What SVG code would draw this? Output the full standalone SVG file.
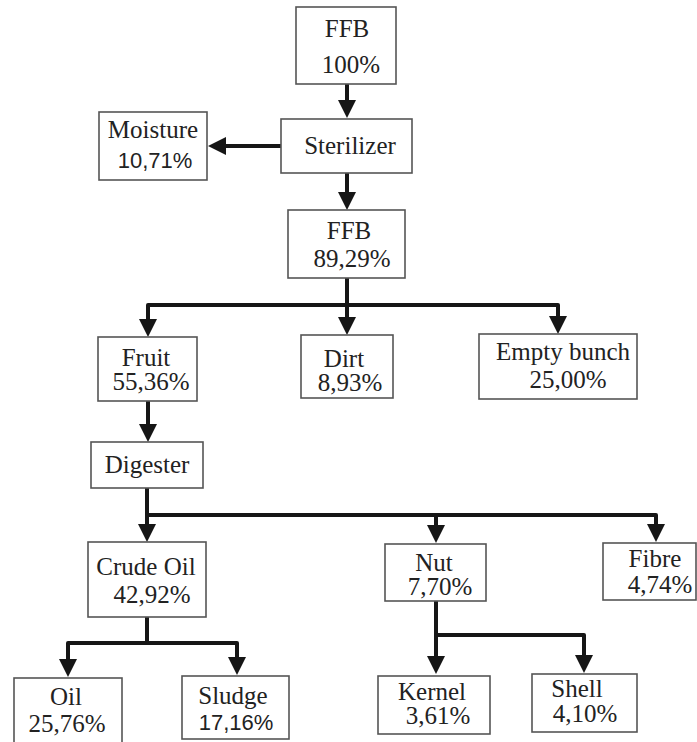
<svg xmlns="http://www.w3.org/2000/svg" width="697" height="742" viewBox="0 0 697 742">
<style>
.box{fill:#fff;stroke:#555;stroke-width:1.6}
.t{font-family:"Liberation Serif","Times New Roman",Times,"DejaVu Serif",serif;font-size:25px;fill:#222;text-anchor:middle}
.s{font-family:"Liberation Sans",Arial,sans-serif;font-size:22px;fill:#222;text-anchor:middle}
.c{fill:none;stroke:#161616;stroke-width:4;stroke-linejoin:round}
</style>
<defs>
<marker id="ah" viewBox="0 0 18 18" markerWidth="18" markerHeight="18" markerUnits="userSpaceOnUse" refX="12" refY="9" orient="auto-start-reverse">
<path d="M0,0 L18,9 L0,18 Z" fill="#161616"/>
</marker>
</defs>
<rect width="697" height="742" fill="#fff"/>
<g id="connectors">
<path class="c" d="M347,84 V112" marker-end="url(#ah)"/>
<path class="c" d="M281,146 H214" marker-end="url(#ah)"/>
<path class="c" d="M347,173 V204" marker-end="url(#ah)"/>
<path class="c" d="M347,278 V329" marker-end="url(#ah)"/>
<path class="c" d="M148,331 V305 H558 V328" marker-start="url(#ah)" marker-end="url(#ah)"/>
<path class="c" d="M148,401 V436" marker-end="url(#ah)"/>
<path class="c" d="M147,488 V536" marker-end="url(#ah)"/>
<path class="c" d="M147,515 H656 V536" marker-end="url(#ah)"/>
<path class="c" d="M436,515 V537" marker-end="url(#ah)"/>
<path class="c" d="M147,617 V643"/>
<path class="c" d="M68,671 V643 H237 V669" marker-start="url(#ah)" marker-end="url(#ah)"/>
<path class="c" d="M436,601 V668" marker-end="url(#ah)"/>
<path class="c" d="M436,635 H584 V667" marker-end="url(#ah)"/>
</g>
<g id="ffb1"><rect class="box" x="296" y="7" width="100" height="77"/><text class="t" x="347" y="37">FFB</text><text class="t" x="351" y="73">100%</text></g>
<g id="sterilizer"><rect class="box" x="281" y="119" width="131" height="54"/><text class="t" x="350" y="154">Sterilizer</text></g>
<g id="moisture"><rect class="box" x="99" y="112" width="108" height="68"/><text class="t" x="153" y="138">Moisture</text><text class="s" x="155" y="168">10,71%</text></g>
<g id="ffb2"><rect class="box" x="288" y="210" width="117" height="68"/><text class="t" x="349" y="239">FFB</text><text class="t" x="352" y="267">89,29%</text></g>
<g id="fruit"><rect class="box" x="98" y="337" width="99" height="64"/><text class="t" x="146" y="366">Fruit</text><text class="t" x="151" y="390">55,36%</text></g>
<g id="dirt"><rect class="box" x="301" y="335" width="92" height="63"/><text class="t" x="344" y="367">Dirt</text><text class="t" x="350" y="391">8,93%</text></g>
<g id="emptybunch"><rect class="box" x="479" y="334" width="158" height="65"/><text class="t" x="563" y="360">Empty bunch</text><text class="t" x="568" y="388">25,00%</text></g>
<g id="digester"><rect class="box" x="91" y="442" width="112" height="46"/><text class="t" x="147" y="473">Digester</text></g>
<g id="crudeoil"><rect class="box" x="88" y="542" width="118" height="75"/><text class="t" x="146" y="575">Crude Oil</text><text class="t" x="152" y="603">42,92%</text></g>
<g id="nut"><rect class="box" x="385" y="544" width="101" height="57"/><text class="t" x="434" y="571">Nut</text><text class="t" x="440" y="595">7,70%</text></g>
<g id="fibre"><rect class="box" x="603" y="543" width="93" height="57"/><text class="t" x="655" y="567">Fibre</text><text class="t" x="660" y="593">4,74%</text></g>
<g id="oil"><rect class="box" x="14" y="678" width="108" height="70"/><text class="t" x="66" y="705">Oil</text><text class="t" x="67" y="732">25,76%</text></g>
<g id="sludge"><rect class="box" x="182" y="676" width="107" height="63"/><text class="t" x="233" y="704">Sludge</text><text class="s" x="236" y="730">17,16%</text></g>
<g id="kernel"><rect class="box" x="378" y="676" width="112" height="58"/><text class="t" x="432" y="700">Kernel</text><text class="t" x="438" y="724">3,61%</text></g>
<g id="shell"><rect class="box" x="532" y="674" width="105" height="58"/><text class="t" x="577" y="697">Shell</text><text class="t" x="585" y="722">4,10%</text></g>
</svg>
